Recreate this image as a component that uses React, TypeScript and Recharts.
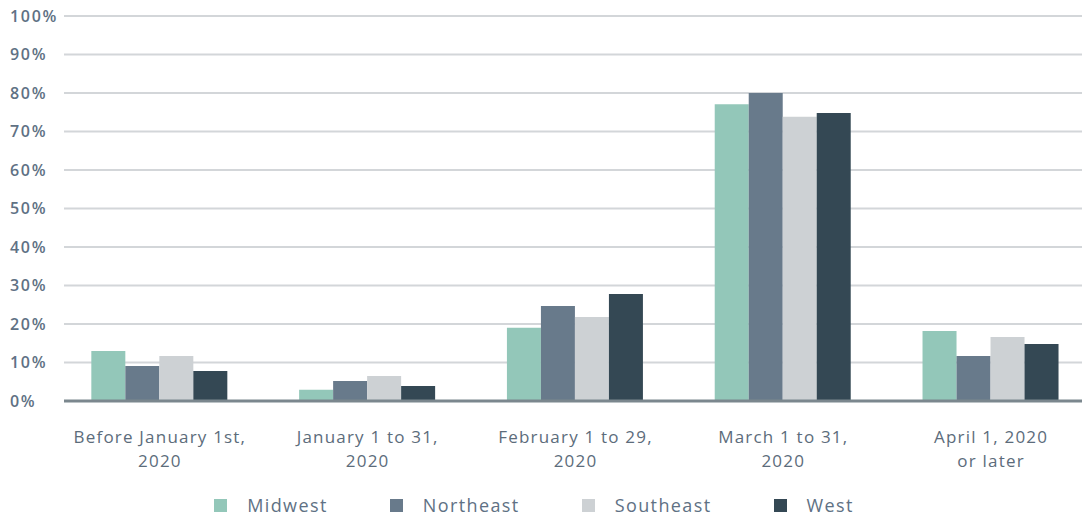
import React from "react";
import { BarChart, Bar, XAxis, YAxis, CartesianGrid, Legend } from "recharts";

const categories = [
  "Before January 1st,|2020",
  "January 1 to 31,|2020",
  "February 1 to 29,|2020",
  "March 1 to 31,|2020",
  "April 1, 2020|or later",
];
const midwest = [13.0, 2.9, 19.0, 77.1, 18.2];
const northeast = [9.1, 5.2, 24.7, 80.0, 11.7];
const southeast = [11.7, 6.5, 21.8, 73.8, 16.6];
const west = [7.8, 3.9, 27.8, 74.8, 14.8];
const yTicks = [0, 10, 20, 30, 40, 50, 60, 70, 80, 90, 100];

const series = [
  { key: "Midwest", color: "#93c7b9" },
  { key: "Northeast", color: "#687a8b" },
  { key: "Southeast", color: "#cdd1d4" },
  { key: "West", color: "#344854" },
];

const data = categories.map((name, i) => ({
  name,
  Midwest: midwest[i],
  Northeast: northeast[i],
  Southeast: southeast[i],
  West: west[i],
}));

const FONT = "'Open Sans', sans-serif";
const TEXT = "#607184";

function YTick({ y, payload }: any) {
  return (
    <text x={10} y={y} dy="0.35em" textAnchor="start" fill={TEXT} fontFamily={FONT} fontSize={16} fontWeight={600} letterSpacing={1.7}>
      {payload.value}%
    </text>
  );
}

function XTick({ x, y, payload }: any) {
  const lines = String(payload.value).split("|");
  return (
    <g>
      {lines.map((l, i) => (
        <text key={i} x={x} y={y + 28 + i * 24} dy="0.35em" textAnchor="middle" fill="#5c6c7b" fontFamily={FONT} fontSize={17} letterSpacing={1.2}>
          {l}
        </text>
      ))}
    </g>
  );
}

function LegendContent() {
  return (
    <div style={{ display: "flex", justifyContent: "center", gap: 62, fontFamily: FONT, fontSize: 18, color: TEXT, letterSpacing: 1.4, lineHeight: "24px", marginLeft: -14 }}>
      {series.map((s) => (
        <div key={s.key} style={{ display: "flex", alignItems: "center" }}>
          <span style={{ width: 13, height: 13, background: s.color, display: "inline-block", marginRight: 20 }} />
          <span>{s.key}</span>
        </div>
      ))}
    </div>
  );
}

export default function App() {
  return (
    <div style={{ width: 1082, height: 517, background: "#fff" }}>
      <style>{"body{margin:0;overflow:hidden}"}</style>
      <BarChart width={1082} height={517} data={data} margin={{ top: 16, right: 0, left: 0, bottom: 0 }} barCategoryGap="17%" barGap={0}>
        <CartesianGrid vertical={false} stroke="#d3d6d9" strokeWidth={2} />
        <XAxis
          dataKey="name"
          height={92}
          tick={<XTick />}
          tickLine={false}
          axisLine={{ stroke: "#7b878e", strokeWidth: 3 }}
          padding={{ left: -8, right: -13 }}
          interval={0}
        />
        <YAxis width={64} domain={[0, 100]} ticks={yTicks} tick={<YTick />} tickLine={false} axisLine={false} />
        <Legend content={<LegendContent />} wrapperStyle={{ left: 0, width: 1082, bottom: 0 }} />
        {series.map((s) => (
          <Bar key={s.key} dataKey={s.key} fill={s.color} isAnimationActive={false} />
        ))}
      </BarChart>
    </div>
  );
}
